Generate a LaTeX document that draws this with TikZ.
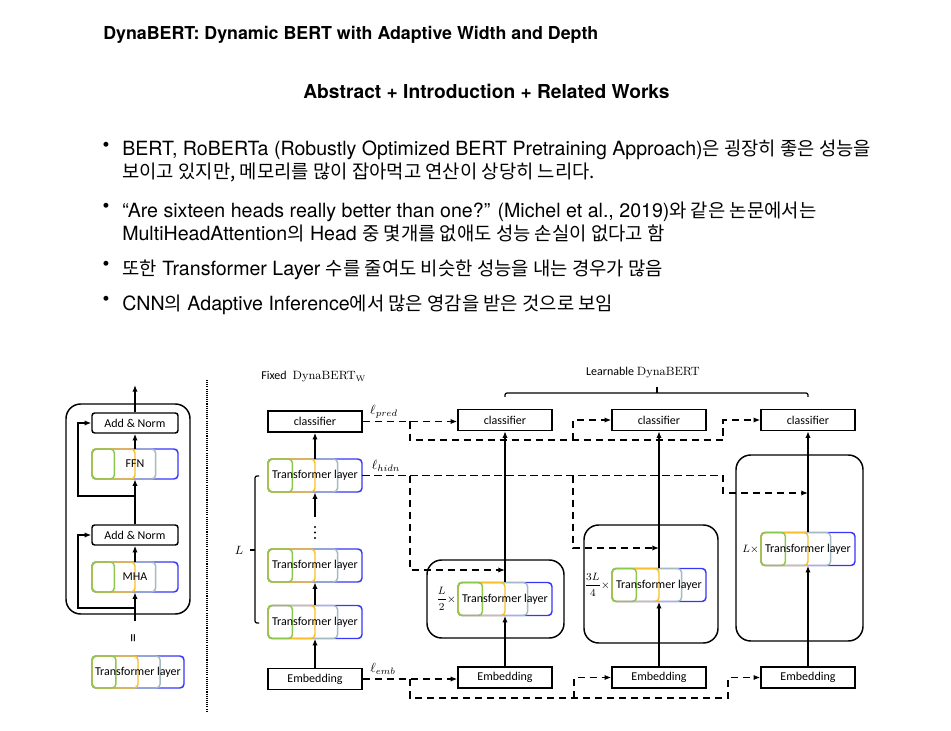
\documentclass[tikz,border=0pt]{standalone}
\usepackage{fontspec}
\usetikzlibrary{arrows.meta,calc}
\newfontfamily\helv{TeX Gyre Heros}
\newfontfamily\krfont[Scale=0.96]{Noto Sans CJK KR}
\newfontfamily\calfont{Carlito}
\newcommand\krt[1]{{\krfont #1}}
\definecolor{tlgreen}{RGB}{140,200,75}
\definecolor{tlyellow}{RGB}{250,190,40}
\definecolor{tlgray}{RGB}{165,185,195}
\definecolor{tlblue}{RGB}{55,55,250}
\tikzset{
  dfont/.style={font=\calfont\fontsize{9}{10}\selectfont},
  blk/.style={draw=black, line width=1.1pt, minimum width=70.5pt, minimum height=15.75pt, inner sep=0pt, dfont},
  anbox/.style={draw=black, line width=1.1pt, rounded corners=2pt, minimum width=64.5pt, minimum height=15pt, inner sep=0pt, dfont},
  tlline/.style={line width=1.1pt, rounded corners=3pt},
  arr/.style={line width=1.1pt, -{Latex[length=5pt,width=4pt]}},
  dln/.style={line width=1.1pt, dash pattern=on 5.5pt off 3.5pt},
  darr/.style={dln, -{Latex[length=5pt,width=4pt]}},
  rbox/.style={draw, line width=1.1pt, rounded corners=11pt},
  bul/.style={anchor=base west, inner sep=0pt, font=\helv\fontsize{14.7}{17}\selectfont},
  dotc/.style={inner sep=0pt, font=\helv\fontsize{14.7}{17}\selectfont},
  losslab/.style={font=\fontsize{10}{11}\selectfont, inner sep=0pt},
}
% name, cx, cy, w(px), h(px), text
\newcommand\tlay[6]{%
  \pgfmathsetmacro\tlxa{#2-#4/2}%
  \pgfmathsetmacro\tlxb{#2+#4/2}%
  \pgfmathsetmacro\tlya{#3-#5/2}%
  \pgfmathsetmacro\tlyb{#3+#5/2}%
  \pgfmathsetmacro\tlqa{#2-#4/2+0.26*#4}%
  \pgfmathsetmacro\tlqb{#2-#4/2+0.50*#4}%
  \pgfmathsetmacro\tlqc{#2-#4/2+0.74*#4}%
  \pgfmathsetmacro\tlw{#4*0.75}%
  \pgfmathsetmacro\tlh{#5*0.75}%
  \draw[tlline, draw=tlblue, fill=white] (\tlxa,\tlya) rectangle (\tlxb,\tlyb);
  \draw[tlline, draw=tlgray] (\tlxa,\tlya) rectangle (\tlqc,\tlyb);
  \draw[tlline, draw=tlyellow] (\tlxa,\tlya) rectangle (\tlqb,\tlyb);
  \draw[tlline, draw=tlgreen] (\tlxa,\tlya) rectangle (\tlqa,\tlyb);
  \node[dfont, inner sep=0pt, minimum width=\tlw pt, minimum height=\tlh pt] (#1) at (#2,#3) {#6};
}
\begin{document}
\begin{tikzpicture}[x=0.75pt,y=-0.75pt]
\path[use as bounding box] (0,0) rectangle (951,731);

% ---------- header text ----------
\node[anchor=base west, inner sep=0pt, font=\helv\bfseries\fontsize{13.35}{15}\selectfont] (title) at (103,40) {DynaBERT: Dynamic BERT with Adaptive Width and Depth};
\node[anchor=base, inner sep=0pt, font=\helv\bfseries\fontsize{14.4}{16}\selectfont] (sub) at (486.5,99) {Abstract + Introduction + Related Works};

\node[dotc] (b1) at (106,147) {•};
\node[bul] (t1) at (122,156) {BERT, RoBERTa (Robustly Optimized BERT Pretraining Approach)\krt{은 굉장히 좋은 성능을}};
\node[bul] (t2) at (122,179) {\krt{보이고 있지만, 메모리를 많이 잡아먹고 연산이 상당히 느리다.}};
\node[dotc] (b2) at (106,208) {•};
\node[bul] (t3) at (122,218) {“Are sixteen heads really better than one?” (Michel et al., 2019)\krt{와 같은 논문에서는}};
\node[bul] (t4) at (122,241) {MultiHeadAttention\krt{의} Head \krt{중 몇개를 없애도 성능 손실이 없다고 함}};
\node[dotc] (b3) at (106,266) {•};
\node[bul] (t5) at (122,276) {\krt{또한} Transformer Layer \krt{수를 줄여도 비슷한 성능을 내는 경우가 많음}};
\node[dotc] (b4) at (106,301) {•};
\node[bul] (t6) at (122,311) {CNN\krt{의} Adaptive Inference\krt{에서 많은 영감을 받은 것으로 보임}};

% ---------- left panel ----------
\draw[line width=1.1pt, rounded corners=11pt] (66,404) rectangle (190,614);
\node[anbox] (an1) at (135,423) {Add \& Norm};
\tlay{ffn}{135}{464}{86}{30}{FFN}
\node[anbox] (an2) at (135,535) {Add \& Norm};
\tlay{mha}{135}{577}{86}{30}{MHA}
\coordinate (ltop) at (135,385);
\coordinate (lin) at (135,621);
\coordinate (r1) at (135,496);
\coordinate (r1l) at (78,496);
\coordinate (r2) at (135,608);
\coordinate (r2l) at (78,608);
\draw[arr] (an1.north) -- (ltop);
\draw[arr] (ffn.north) -- (an1.south);
\draw[arr] (an2.north) -- (ffn.south);
\draw[arr] (r1) -- (r1l) |- (an1.west);
\draw[arr] (mha.north) -- (an2.south);
\draw[arr] (lin) -- (mha.south);
\draw[arr] (r2) -- (r2l) |- (an2.west);
\node[font=\calfont\fontsize{13}{14}\selectfont, rotate=90, inner sep=0pt] (eq) at (135,638) {=};
\tlay{tlL}{138}{672}{92}{32}{Transformer layer}

% separator
\coordinate (sepA) at (207,380);
\coordinate (sepB) at (207,712);
\draw[line width=0.8pt, dash pattern=on 0.8pt off 0.8pt] (sepA) -- (sepB);

% ---------- fixed DynaBERT_W ----------
\node[anchor=west, inner sep=0pt, dfont] (fixlab) at (261,377) {Fixed\enspace{\rmfamily DynaBERT}$_{\mathrm{W}}$};
\node[blk] (cls0) at (315,421.5) {classifier};
\tlay{tl0a}{315}{475.5}{94}{33}{Transformer layer}
\foreach \dy [count=\di] in {527,532.5,538} \fill (315,\dy) circle (0.9pt);
\coordinate (dtop) at (315,517);
\tlay{tl0b}{315}{565.5}{94}{33}{Transformer layer}
\tlay{tl0c}{315}{622}{94}{33}{Transformer layer}
\node[blk] (emb0) at (315,679) {Embedding};
\draw[arr] (emb0.north) -- (tl0c.south);
\draw[arr] (tl0c.north) -- (tl0b.south);
\draw[arr] (dtop) -- (tl0a.south);
\draw[arr] (tl0a.north) -- (cls0.south);
% bracket L
\coordinate (brT) at (259,476);
\coordinate (brB) at (259,623);
\coordinate (brM) at (255,550);
\coordinate (brMl) at (250,550);
\draw[line width=0.9pt, rounded corners=1.5pt] (brT) -- (255,476) -- (255,623) -- (brB);
\draw[line width=0.9pt] (brM) -- (brMl);
\node[font=\fontsize{9.5}{10}\selectfont, inner sep=0pt] (Llab) at (239,550) {$L$};

% loss labels
\node[losslab] (lpred) at (384,412) {$\ell_{pred}$};
\node[losslab] (lhidn) at (386,466) {$\ell_{hidn}$};
\node[losslab] (lemb) at (383,669) {$\ell_{emb}$};

% ---------- learnable DynaBERT ----------
\node[dfont, inner sep=0pt] (learnlab) at (643,373) {Learnable {\rmfamily DynaBERT}};
\coordinate (lbL) at (505,397);
\coordinate (lbR) at (808,397);
\coordinate (lbM) at (657,393);
\coordinate (lbMt) at (657,387);
\draw[line width=0.9pt, rounded corners=1.5pt] (lbL) -- (505,393) -- (808,393) -- (lbR);
\draw[line width=0.9pt] (lbM) -- (lbMt);

% column 1
\draw[rbox] (427,560) rectangle (564,638);
\node[blk] (cls1) at (505,420) {classifier};
\tlay{tl1}{505}{599}{94}{33}{Transformer layer}
\node[blk] (emb1) at (505,677.5) {Embedding};
\node[anchor=east, inner sep=0pt, font=\fontsize{8}{9}\selectfont] (lab1) at ($(tl1.west)+(-1.5,0)$) {$\displaystyle\frac{L}{2}\times$};
% column 2
\draw[rbox] (584,525) rectangle (718,643);
\node[blk] (cls2) at (659,420) {classifier};
\tlay{tl2}{659}{585}{94}{33}{Transformer layer}
\node[blk] (emb2) at (659,677.5) {Embedding};
\node[anchor=east, inner sep=0pt, font=\fontsize{8}{9}\selectfont] (lab2) at ($(tl2.west)+(-1.5,0)$) {$\displaystyle\frac{3L}{4}\times$};
% column 3
\draw[rbox] (736,455) rectangle (863,641);
\node[blk] (cls3) at (808,420) {classifier};
\tlay{tl3}{808}{549}{94}{33}{Transformer layer}
\node[blk] (emb3) at (808,677.5) {Embedding};
\node[anchor=east, inner sep=0pt, font=\fontsize{8.5}{9}\selectfont] (lab3) at ($(tl3.west)+(-1.5,0)$) {$L\times$};

\draw[arr] (emb1.north) -- (tl1.south);
\draw[arr] (tl1.north) -- (cls1.south);
\draw[arr] (emb2.north) -- (tl2.south);
\draw[arr] (tl2.north) -- (cls2.south);
\draw[arr] (emb3.north) -- (tl3.south);
\draw[arr] (tl3.north) -- (cls3.south);

% ---------- dashed distillation connectors ----------
% prediction
\coordinate (pA) at (410,421.5);
\coordinate (pB) at (410,440);
\coordinate (pC) at (573,440);
\coordinate (pD) at (573,420);
\coordinate (pE) at (723,440);
\coordinate (pF) at (723,420);
\draw[darr] (cls0.east) -- (cls0.east -| cls1.west);
\draw[darr] (pA) -- (pB) -- (pE) -- (pF) -- (cls3.west);
\draw[darr] (pC) -- (pD) -- (cls2.west);
% hidden
\coordinate (hA) at (410,475.5);
\coordinate (hB) at (410,570);
\coordinate (hT1) at (505,570);
\coordinate (hC) at (573,475.5);
\coordinate (hD) at (573,548);
\coordinate (hT2) at (659,548);
\coordinate (hE) at (723,475.5);
\coordinate (hF) at (723,493);
\coordinate (hT3) at (808,493);
\draw[darr] (tl0a.east) -- (hE) -- (hF) -- (hT3);
\draw[darr] (hA) -- (hB) -- (hT1);
\draw[darr] (hC) -- (hD) -- (hT2);
% embedding
\coordinate (eA) at (410,679);
\coordinate (eB) at (410,698);
\coordinate (eC) at (574,698);
\coordinate (eD) at (574,677.5);
\coordinate (eE) at (728,698);
\coordinate (eF) at (728,677.5);
\draw[darr] (emb0.east) -- (emb0.east -| emb1.west);
\draw[darr] (eA) -- (eB) -- (eE) -- (eF) -- (emb3.west);
\draw[darr] (eC) -- (eD) -- (emb2.west);
\end{tikzpicture}
\end{document}
